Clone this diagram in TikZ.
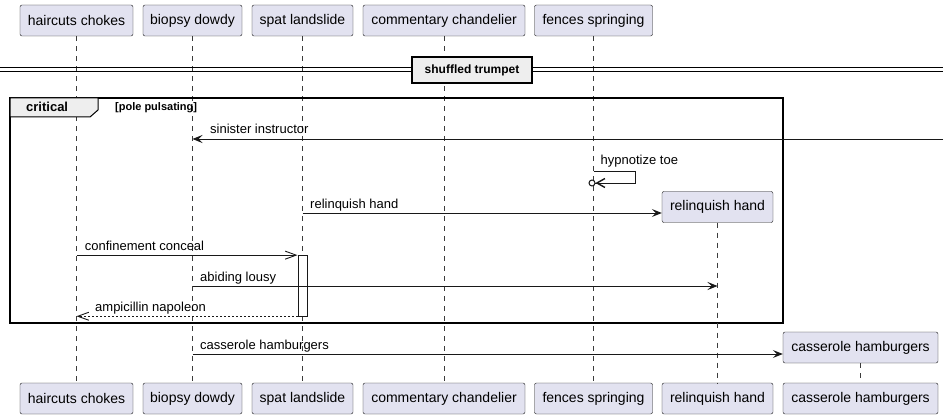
\documentclass[tikz,border=0pt]{standalone}
\usepackage{fontspec}
\setmainfont{Liberation Sans}
\usetikzlibrary{arrows.meta}
\definecolor{partfill}{HTML}{E2E2F0}
\definecolor{partline}{HTML}{181818}
\definecolor{tabfill}{HTML}{EEEEEE}
\begin{document}
\begin{tikzpicture}[x=1pt,y=-1pt, every node/.style={font=\fontsize{13}{15}\selectfont},
  part/.style={draw=partline,fill=partfill,rounded corners=2pt,minimum height=31pt,inner sep=0pt,font=\fontsize{14}{16}\selectfont},
  life/.style={draw=partline!85,line width=0.6pt,dash pattern=on 5pt off 5pt},
  msg/.style={draw=partline,line width=0.9pt,-{Stealth[length=10pt,width=8pt,inset=4pt]}},
  openmsg/.style={draw=partline,line width=0.9pt,-{Straight Barb[length=11pt,width=8pt]}},
  lbl/.style={anchor=base west,inner sep=0pt}]
\useasboundingbox (0,0) rectangle (949,419);
% participants, top and bottom
\foreach \n/\x/\w/\t in {hc/76.5/113/haircuts chokes, bd/192.5/99/biopsy dowdy,
    sl/302.5/101/spat landslide, cc/444/162/commentary chandelier, fs/593.5/118/fences springing} {
  \node[part,minimum width=\w pt] (\n) at (\x,20.5) {\t};
  \node[part,minimum width=\w pt] (\n-bot) at (\x,398.5) {\t};
  \draw[life] (\n) -- (\n-bot);
}
% divider
\draw[line width=1pt] (0,68) -- (943,68) (0,72) -- (943,72);
\node[draw,line width=1.6pt,fill=tabfill,minimum width=120pt,minimum height=26pt,inner sep=0pt,
  font=\bfseries\fontsize{12}{14}\selectfont] (div) at (472,70) {shuffled trumpet};
% critical group
\draw[line width=1.5pt] (10,98) rectangle (783,323);
\draw[line width=1pt,fill=tabfill] (10,98) -- (98,98) -- (98,110) -- (90,117) -- (10,117) -- cycle;
\node[lbl,font=\bfseries\fontsize{13}{15}\selectfont] (crit) at (26,112) {critical};
\node[lbl,font=\bfseries\fontsize{11}{13}\selectfont] (guard) at (115,111) {[pole pulsating]};
% messages
\coordinate (rim) at (943,139);
\draw[msg] (rim) -- (rim -| bd);
\node[lbl] (m1) at (210,134) {sinister instructor};
\draw[draw=partline,line width=0.9pt,-{Straight Barb[length=8pt,width=9pt,line width=1.4pt] Circle[open,length=7pt,width=7pt,line width=1pt]}]
  (fs |- 0,171) -- ++(42,0) -- ++(0,12) -- ++(-47,0);
\node[lbl] (m2) at (600.5,165) {hypnotize toe};
\node[part,minimum width=111pt] (rh) at (717.5,207) {relinquish hand};
\node[part,minimum width=111pt] (rh-bot) at (717.5,398.5) {relinquish hand};
\draw[life] (rh) -- (rh-bot);
\draw[msg] (sl |- 0,213) -- (rh.west |- 0,213);
\node[lbl] (m3) at (310,209) {relinquish hand};
\node[draw=partline,fill=white,minimum width=9.6pt,minimum height=60.7pt,inner sep=0pt] (act) at (302.5,285.7) {};
\draw[openmsg] (hc |- act.north) -- (act.north west);
\node[lbl] (m4) at (84.7,250.7) {confinement conceal};
\draw[msg] (bd |- 0,286) -- (rh |- 0,286);
\node[lbl] (m5) at (200,281) {abiding lousy};
\draw[openmsg,dash pattern=on 2pt off 2pt] (act.south west) -- (hc |- act.south);
\node[lbl] (m6) at (95,311.5) {ampicillin napoleon};
% created late
\node[part,minimum width=155pt] (ch) at (860.5,347.5) {casserole hamburgers};
\node[part,minimum width=155pt] (ch-bot) at (860.5,398.5) {casserole hamburgers};
\draw[life] (ch) -- (ch-bot);
\draw[msg] (bd |- 0,354) -- (ch.west |- 0,354);
\node[lbl] (m7) at (200,349.5) {casserole hamburgers};
\end{tikzpicture}
\end{document}
